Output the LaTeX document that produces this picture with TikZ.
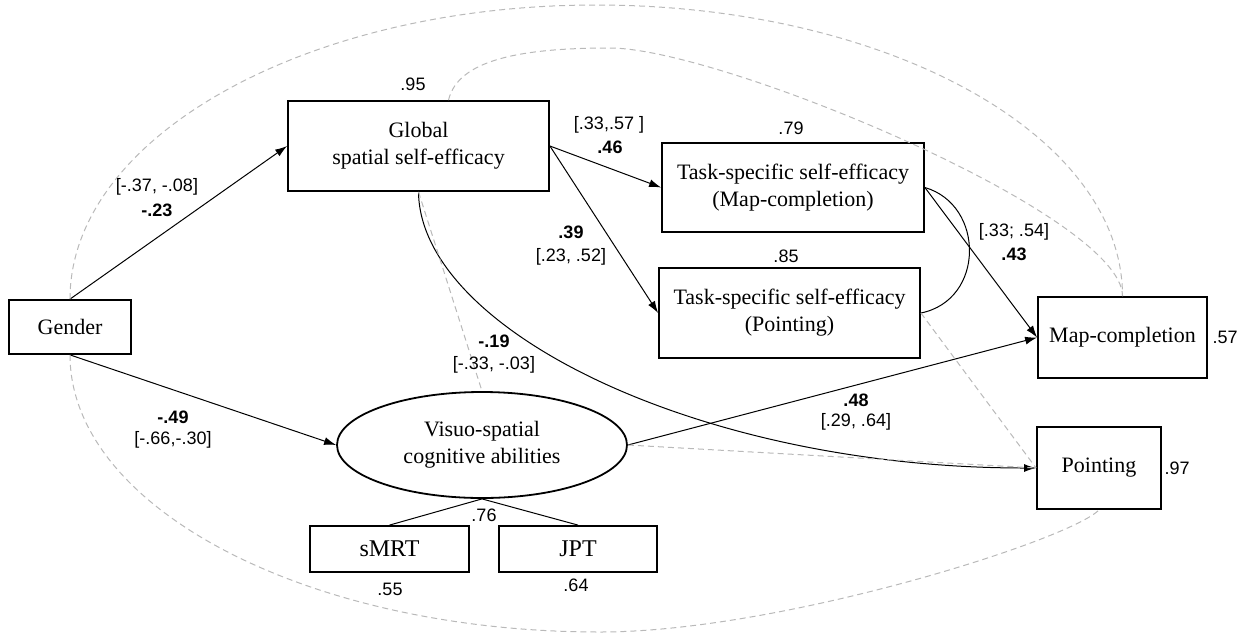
\documentclass[tikz,border=0pt]{standalone}
\usepackage{fontspec}
\setmainfont{Liberation Serif}
\newfontfamily\numfont{Liberation Sans}
\usetikzlibrary{shapes.geometric,arrows.meta}

\begin{document}
\begin{tikzpicture}[x=0.5pt,y=-0.5pt,
  box/.style={draw, line width=0.9pt, inner sep=0pt, align=center,
    font=\fontsize{11}{13.5}\selectfont},
  latent/.style={draw, ellipse, line width=0.9pt, inner sep=0pt, align=center,
    minimum width=145pt, minimum height=53pt, font=\fontsize{11}{13.5}\selectfont},
  indic/.style={box, font=\fontsize{12}{14}\selectfont},
  coef/.style={inner sep=0pt, font=\numfont\fontsize{9}{11}\selectfont},
  bcoef/.style={inner sep=0pt, font=\numfont\bfseries\fontsize{9}{11}\selectfont},
  reg/.style={line width=0.5pt, -{Latex[length=6pt,width=4pt]}},
  load/.style={line width=0.5pt},
  corr/.style={line width=0.5pt},
  resid/.style={gray!55, line width=0.5pt, dash pattern=on 3pt off 2pt}]

\useasboundingbox (0,0) rectangle (1248,633);

% observed and latent variables
\node[box, minimum width=61pt, minimum height=27pt] (gender) at (70,327) {Gender};
\node[box, minimum width=130.5pt, minimum height=45pt] (global) at (418.5,146) {Global\\spatial self-efficacy};
\node[box, minimum width=131pt, minimum height=44.5pt] (tmc) at (793,187.5) {Task-specific self-efficacy\\(Map-completion)};
\node[box, minimum width=130.5pt, minimum height=45pt] (tp) at (789.5,313) {Task-specific self-efficacy\\(Pointing)};
\node[box, minimum width=84.5pt, minimum height=40.5pt] (map) at (1122.5,337.5) {Map-completion};
\node[box, minimum width=62pt, minimum height=41pt] (point) at (1099,468) {Pointing};
\node[latent] (vsca) at (482,445) {Visuo-spatial\\cognitive abilities};
\node[indic, minimum width=79.5pt, minimum height=23pt] (smrt) at (389.5,549) {sMRT};
\node[indic, minimum width=79pt, minimum height=23pt] (jpt) at (578,549) {JPT};

% regression paths
\draw[reg] (gender.north) -- (global.west);
\draw[reg] (gender.south) -- (vsca.west);
\draw[reg] (global.east) -- (tmc.west);
\draw[reg] (global.east) -- (tp.west);
\draw[reg] (tmc.east) -- (map.west);
\draw[reg] (vsca.east) -- (map.west);
\draw[reg] (global.south) .. controls (420,330) and (700,468) .. (point.west);

% factor loadings
\draw[load] (vsca.south) -- (smrt.north);
\draw[load] (vsca.south) -- (jpt.north);

% correlation between task-specific self-efficacies
\draw[corr] (tmc.east) .. controls (985,205) and (985,300) .. (tp.east);

% residual covariances
\draw[resid] (gender.north) .. controls (70,137) and (306,5) .. (596,5)
  .. controls (886,5) and (1122.5,134) .. (map.north);
\draw[resid] ([xshift=15pt]global.north) .. controls (458,60) and (520,48) .. (610,48)
  .. controls (720,48) and (1122.5,215) .. (map.north);
\draw[resid] (global.south) -- (vsca.north);
\draw[resid] (tp.east) -- (point.west);
\draw[resid] (vsca.east) -- (point.west);
\draw[resid] (gender.south) .. controls (70,508) and (308,632) .. (600,632)
  .. controls (780,632) and (1070,540) .. (point.south);

% coefficients
\node[coef] (r95) at (413,84) {.95};
\node[coef] (ci1) at (157,187) {[-.37, -.08]};
\node[bcoef] (b1) at (157,210) {-.23};
\node[coef] (ci2) at (609,125) {[.33,.57 ]};
\node[bcoef] (b2) at (610,147) {.46};
\node[coef] (r79) at (791,128) {.79};
\node[bcoef] (b3) at (571,232) {.39};
\node[coef] (ci3) at (571,257) {[.23, .52]};
\node[coef] (r85) at (786,256) {.85};
\node[coef] (ci4) at (1014,232) {[.33; .54]};
\node[bcoef] (b4) at (1014,254) {.43};
\node[coef] (r57) at (1225,337) {.57};
\node[bcoef] (b5) at (494,341) {-.19};
\node[coef] (ci5) at (494,365) {[-.33, -.03]};
\node[bcoef] (b6) at (173,417) {-.49};
\node[coef] (ci6) at (173,440) {[-.66,-.30]};
\node[bcoef] (b7) at (856,400) {.48};
\node[coef] (ci7) at (856,422) {[.29, .64]};
\node[coef] (r97) at (1177,468) {.97};
\node[coef] (r76) at (484,515) {.76};
\node[coef] (r55) at (390,589) {.55};
\node[coef] (r64) at (576,585) {.64};
\end{tikzpicture}
\end{document}
